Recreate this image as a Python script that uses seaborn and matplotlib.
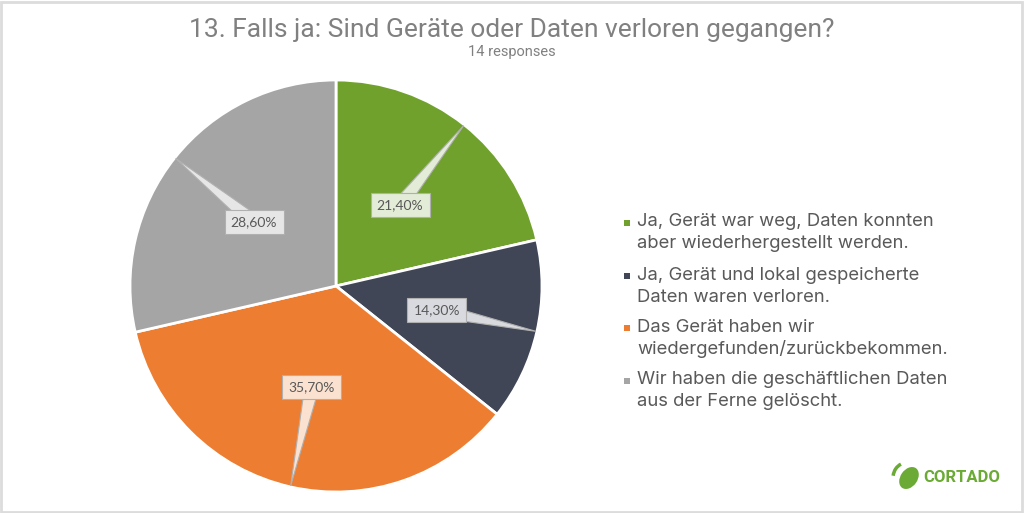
import numpy as np
import matplotlib
matplotlib.use("Agg")
import matplotlib.pyplot as plt
import matplotlib.patches as mpatches
from matplotlib.transforms import IdentityTransform
import seaborn as sns

# --- Data ---
CATEGORIES = [
    "Ja, Gerät war weg, Daten konnten\naber wiederhergestellt werden.",
    "Ja, Gerät und lokal gespeicherte\nDaten waren verloren.",
    "Das Gerät haben wir\nwiedergefunden/zurückbekommen.",
    "Wir haben die geschäftlichen Daten\naus der Ferne gelöscht.",
]
SHARES = [21.4, 14.3, 35.7, 28.6]
TITLE = "13. Falls ja: Sind Geräte oder Daten verloren gegangen?"
SUBTITLE = "14 responses"

# --- Style ---
COLORS = ["#70a12c", "#404656", "#ed7d31", "#a5a5a5"]
BOX_COLORS = ["#e2ecd6", "#d9dadf", "#fbe1cf", "#e6e6e6"]
LABEL_POS = [(0.311, 0.393), (0.49, -0.117), (-0.117, -0.49), (-0.398, 0.311)]
TEXT_GREY = "#595959"

sns.set_theme(style="white")
plt.rcParams["font.family"] = ["Inter", "DejaVu Sans"]

W, H = 1024, 513
fig = plt.figure(figsize=(W / 100, H / 100), dpi=100)
fig.patch.set_facecolor("white")

# pie axes: centre (336, 286) px, radius 206 px
cx, cy, r = 336, 286, 206
ax = fig.add_axes([(cx - r) / W, (H - cy - r) / H, 2 * r / W, 2 * r / H])
wedges, _ = ax.pie(SHARES, colors=COLORS, startangle=90, counterclock=False,
                   radius=1.0, wedgeprops=dict(edgecolor="white", linewidth=2))
ax.set_xlim(-1, 1)
ax.set_ylim(-1, 1)
ax.set_aspect("equal")
ax.axis("off")

# callout labels
total = sum(SHARES)
cum = 0.0
for v, (lx, ly), bc in zip(SHARES, LABEL_POS, BOX_COLORS):
    mid = np.deg2rad(90 - 360 * (cum + v / 2) / total)
    cum += v
    tx, ty = 0.995 * np.cos(mid), 0.995 * np.sin(mid)
    dx, dy = tx - lx, ty - ly
    d = np.hypot(dx, dy)
    px, py = -dy / d * 0.035, dx / d * 0.035
    tri = mpatches.Polygon([(tx, ty), (lx + px, ly + py), (lx - px, ly - py)],
                           closed=True, facecolor=bc, edgecolor="#b0b0b0",
                           linewidth=0.8, zorder=3)
    ax.add_patch(tri)
    ax.text(lx, ly, f"{v:.2f}".replace(".", ",") + "%", ha="center", va="center",
            fontsize=10, color=TEXT_GREY, family=["Lato", "DejaVu Sans"], zorder=4,
            bbox=dict(boxstyle="square,pad=0.45", facecolor=bc,
                      edgecolor="#b0b0b0", linewidth=0.8))

# titles
fig.text(512 / W, 1 - 30 / H, TITLE, ha="center", va="center", fontsize=19,
         color="#808080", family=["Roboto", "DejaVu Sans"])
fig.text(512 / W, 1 - 52 / H, SUBTITLE, ha="center", va="center", fontsize=10.5,
         color="#808080", family=["Roboto", "DejaVu Sans"])

# legend
line_y = [222, 275, 327, 380]
for lab, col, y in zip(CATEGORIES, COLORS, line_y):
    fig.patches.append(mpatches.Rectangle((624 / W, 1 - (y + 3.5) / H), 6 / W, 6 / H,
                                          transform=fig.transFigure, facecolor=col,
                                          edgecolor="none"))
    for i, part in enumerate(lab.split("\n")):
        fig.text(637 / W, 1 - (y + i * 22) / H, part, ha="left", va="center",
                 fontsize=13.3, color=TEXT_GREY)

# logo
green = "#6aaa35"
fig.patches.append(mpatches.Ellipse((909, H - 478), 17, 24, angle=-35,
                                    transform=IdentityTransform(), facecolor=green,
                                    edgecolor="none"))
fig.patches.append(mpatches.Arc((906, H - 478), 26, 30, angle=0, theta1=110, theta2=170,
                                transform=IdentityTransform(), color=green, linewidth=2.5))
fig.text(962 / W, 1 - 477 / H, "CORTADO", ha="center", va="center", fontsize=12,
         fontweight="bold", color=green, family=["Roboto", "DejaVu Sans"])

# frame
fig.patches.append(mpatches.Rectangle((1 / W, 1 / H), 1 - 3 / W, 1 - 3 / H,
                                      transform=fig.transFigure, facecolor="none",
                                      edgecolor="#dcdcdc", linewidth=2))

fig.savefig("out.png", dpi=100)
